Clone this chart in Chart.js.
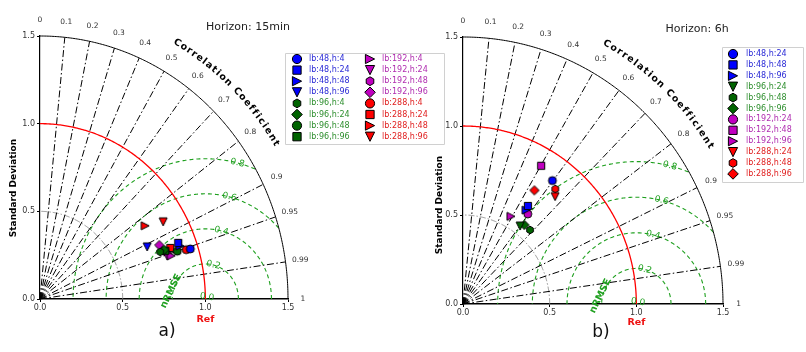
<!DOCTYPE html>
<html><head><meta charset="utf-8">
<script src="https://cdn.jsdelivr.net/npm/chart.js@4"></script>
<style>
html,body{margin:0;padding:0;background:#fff;}
#wrap{position:relative;width:806px;height:352px;overflow:hidden;background:#fff;}
#c1{position:absolute;left:0;top:0;}
#c2{position:absolute;left:420px;top:0;}
</style></head><body>
<div id="wrap"><canvas id="c1" width="450" height="352"></canvas><canvas id="c2" width="386" height="352"></canvas></div>
<script>
// ---------------- data ----------------
const stdTicks = [0, 0.5, 1.0, 1.5];
const corrTicks = [0, 0.1, 0.2, 0.3, 0.4, 0.5, 0.6, 0.7, 0.8, 0.9, 0.95, 0.99, 1];
const corrLines = [0.1, 0.2, 0.3, 0.4, 0.5, 0.6, 0.7, 0.8, 0.9, 0.95, 0.99];
const rmseLevels = [0.2, 0.4, 0.6, 0.8];
const stdContours = [0.5];
const refStd = 1.0;
const maxStd = 1.5;

const labels15min = ['lb:48,h:4','lb:48,h:24','lb:48,h:48','lb:48,h:96','lb:96,h:4','lb:96,h:24','lb:96,h:48','lb:96,h:96','lb:192,h:4','lb:192,h:24','lb:192,h:48','lb:192,h:96','lb:288,h:4','lb:288,h:24','lb:288,h:48','lb:288,h:96'];
const std15min  = [0.953,0.895,0.900,0.713,0.775,0.802,0.874,0.806,0.831,0.808,0.804,0.784,0.928,0.840,0.761,0.865];
const corr15min = [0.954,0.934,0.942,0.909,0.938,0.937,0.950,0.940,0.955,0.953,0.943,0.920,0.953,0.938,0.836,0.861];

const labels6h = ['lb:48,h:24','lb:48,h:48','lb:48,h:96','lb:96,h:24','lb:96,h:48','lb:96,h:96','lb:192,h:24','lb:192,h:48','lb:192,h:96','lb:288,h:24','lb:288,h:48','lb:288,h:96'];
const std6h  = [0.864,0.666,0.641,0.548,0.568,0.568,0.629,0.898,0.565,0.804,0.837,0.760];
const corr6h = [0.597,0.562,0.568,0.601,0.681,0.624,0.594,0.502,0.490,0.661,0.636,0.542];

// ---------------- styles ----------------
const groupIdx15 = [0,0,0,0,1,1,1,1,2,2,2,2,3,3,3,3];
const groupIdx6h = [0,0,0,1,1,1,2,2,2,3,3,3];
const shapeCycle = ['o','s','>','v','h','D'];
const markerColors = ['#0000ff','#006400','#c000c0','#ff0000'];
const textColors = ['#2b2bd6','#2f8f2f','#b02db0','#e01e1e'];
const FONT = '"DejaVu Sans", sans-serif';

function drawShape(ctx, shape, cx, cy, s, fill) {
  ctx.beginPath();
  if (shape === 'o') { ctx.arc(cx, cy, s, 0, Math.PI*2); }
  else if (shape === 's') { const h = s*0.9; ctx.rect(cx-h, cy-h, 2*h, 2*h); }
  else if (shape === '>') { ctx.moveTo(cx+s, cy); ctx.lineTo(cx-s, cy-s); ctx.lineTo(cx-s, cy+s); ctx.closePath(); }
  else if (shape === 'v') { ctx.moveTo(cx-s, cy-s); ctx.lineTo(cx+s, cy-s); ctx.lineTo(cx, cy+s); ctx.closePath(); }
  else if (shape === 'h') { const h = s*0.95; for (let k=0;k<6;k++){const a=-Math.PI/2+k*Math.PI/3; const px=cx+h*Math.cos(a), py=cy+h*Math.sin(a); k?ctx.lineTo(px,py):ctx.moveTo(px,py);} ctx.closePath(); }
  else if (shape === 'D') { const h = s*1.15; ctx.moveTo(cx, cy-h); ctx.lineTo(cx+h, cy); ctx.lineTo(cx, cy+h); ctx.lineTo(cx-h, cy); ctx.closePath(); }
  ctx.fillStyle = fill; ctx.fill();
  ctx.lineWidth = 1; ctx.strokeStyle = '#000'; ctx.stroke();
}
function markerCanvas(shape, fill, s) {
  const c = document.createElement('canvas');
  const n = Math.ceil(2*s*1.2 + 4);
  c.width = n; c.height = n;
  drawShape(c.getContext('2d'), shape, n/2, n/2, s, fill);
  return c;
}

const taylorPlugin = {
  id: 'taylor',
  beforeDatasetsDraw(chart, args, o) {
    const ctx = chart.ctx;
    const xs = chart.scales.x, ys = chart.scales.y;
    const Q = (x, y) => [xs.getPixelForValue(x), ys.getPixelForValue(y)];
    const P = (r, a) => Q(r*Math.cos(a), r*Math.sin(a));
    ctx.save();
    // std contour (gray)
    stdContours.forEach(r => {
      ctx.beginPath();
      for (let i=0;i<=180;i++){const [px,py]=P(r, i/180*Math.PI/2); i?ctx.lineTo(px,py):ctx.moveTo(px,py);}
      ctx.strokeStyle='#8a8a8a'; ctx.lineWidth=0.9; ctx.setLineDash([6,2,1.5,2]); ctx.stroke();
    });
    // RMSE arcs (green dashed) centered on reference
    ctx.setLineDash([4,3]); ctx.strokeStyle='#1fa01f'; ctx.lineWidth=1.1;
    rmseLevels.forEach(r => {
      ctx.beginPath(); let pen=false;
      for (let i=0;i<=400;i++){
        const t=i/400*Math.PI; const x=refStd+r*Math.cos(t), y=r*Math.sin(t);
        if (x*x+y*y<=maxStd*maxStd && x>=0){const [px,py]=Q(x,y); pen?ctx.lineTo(px,py):ctx.moveTo(px,py); pen=true;} else pen=false;
      }
      ctx.stroke();
    });
    // correlation lines
    ctx.setLineDash([7,2.5,1.5,2.5]); ctx.strokeStyle='#000'; ctx.lineWidth=1;
    corrLines.forEach(c => {
      const a=Math.acos(c); const [x0,y0]=P(0,a); const [x1,y1]=P(maxStd,a);
      ctx.beginPath(); ctx.moveTo(x0,y0); ctx.lineTo(x1,y1); ctx.stroke();
    });
    // reference std arc (red)
    ctx.setLineDash([]);
    ctx.beginPath();
    for (let i=0;i<=180;i++){const [px,py]=P(refStd, i/180*Math.PI/2); i?ctx.lineTo(px,py):ctx.moveTo(px,py);}
    ctx.strokeStyle='#ff0000'; ctx.lineWidth=1.3; ctx.stroke();
    // outer arc
    ctx.beginPath();
    for (let i=0;i<=240;i++){const [px,py]=P(maxStd, i/240*Math.PI/2); i?ctx.lineTo(px,py):ctx.moveTo(px,py);}
    ctx.strokeStyle='#000'; ctx.lineWidth=1; ctx.stroke();
    // RMSE labels
    ctx.fillStyle='#1fa01f'; ctx.font='9px '+FONT; ctx.textAlign='center'; ctx.textBaseline='middle';
    const la = 76*Math.PI/180;
    rmseLevels.forEach(r => {
      const [px,py]=Q(refStd+r*Math.cos(la), r*Math.sin(la));
      ctx.save(); ctx.translate(px,py); ctx.rotate(14*Math.PI/180); ctx.fillText(r.toFixed(1),0,0); ctx.restore();
    });
    { const [px,py]=Q(refStd+0.01, 0.012); ctx.save(); ctx.translate(px,py); ctx.rotate(10*Math.PI/180); ctx.fillText('0.0',0,0); ctx.restore(); }
    { const [px,py]=Q(0.793, 0.045); ctx.save(); ctx.translate(px,py); ctx.rotate(-64*Math.PI/180); ctx.font='bold 9.5px '+FONT; ctx.fillText('nRMSE',0,0); ctx.restore(); }
    ctx.restore();
  },
  afterDraw(chart, args, o) {
    const ctx = chart.ctx;
    const xs = chart.scales.x, ys = chart.scales.y;
    const Q = (x, y) => [xs.getPixelForValue(x), ys.getPixelForValue(y)];
    const P = (r, a) => Q(r*Math.cos(a), r*Math.sin(a));
    const ca = chart.chartArea;
    ctx.save();
    // correlation tick labels
    ctx.fillStyle='#333'; ctx.font='7.5px '+FONT; ctx.textAlign='center'; ctx.textBaseline='middle';
    corrTicks.forEach(c => { const [px,py]=P(maxStd+0.09, Math.acos(c)); ctx.fillText(String(c), px, py); });
    // curved title
    ctx.fillStyle='#000'; ctx.font='bold 9.5px '+FONT;
    const text='Correlation Coefficient'; const chars=[...text]; const sp=2.2;
    const ws=chars.map(ch=>ctx.measureText(ch).width+sp); const total=ws.reduce((a,b)=>a+b,0)-sp;
    const a0=61*Math.PI/180, a1=31.5*Math.PI/180, R=1.68; let acc=0;
    chars.forEach((ch,i)=>{
      const mid=acc+(ws[i]-sp)/2; const a=a0-(a0-a1)*mid/total;
      const [px,py]=P(R,a); const [qx,qy]=P(R,a-0.001);
      ctx.save(); ctx.translate(px,py); ctx.rotate(Math.atan2(qy-py,qx-px)); ctx.fillText(ch,0,0); ctx.restore();
      acc+=ws[i];
    });
    // Ref label
    { const [px]=Q(refStd,0); ctx.fillStyle='#ee1111'; ctx.font='bold 9.5px '+FONT; ctx.fillText('Ref', px, ca.bottom+o.refDy); }
    // y title
    ctx.save(); ctx.translate(o.yTitle[0], o.yTitle[1]); ctx.rotate(-Math.PI/2); ctx.fillStyle='#000'; ctx.font='bold 9px '+FONT; ctx.fillText('Standard Deviation',0,0); ctx.restore();
    // horizon title
    ctx.fillStyle='#222'; ctx.font='11px '+FONT; ctx.fillText(o.title, o.titlePos[0], o.titlePos[1]);
    // panel letter
    ctx.fillStyle='#111'; ctx.font='17px '+FONT; ctx.fillText(o.panel, o.panelPos[0], o.panelPos[1]);
    // legend
    const L=o.legend; ctx.fillStyle='rgba(255,255,255,0.9)'; ctx.strokeStyle='#d0d0d0'; ctx.lineWidth=1;
    ctx.beginPath(); ctx.rect(L.box[0]+0.5,L.box[1]+0.5,L.box[2]-L.box[0],L.box[3]-L.box[1]); ctx.fill(); ctx.stroke();
    ctx.font='8px '+FONT; ctx.textAlign='left'; ctx.textBaseline='middle';
    chart.data.datasets.forEach((ds,i)=>{
      const col=Math.floor(i/L.rows), row=i%L.rows; const y=L.y0+row*L.dy;
      const [mx,tx]=L.cols[col];
      drawShape(ctx, o.shapes[i], mx, y, 4.6, ds.backgroundColor);
      ctx.fillStyle=o.textCols[i]; ctx.fillText(ds.label, tx, y);
    });
    ctx.restore();
  }
};

function makeChart(id, labels, stds, corrs, groups, cfg) {
  const shapes = labels.map((_, i) => shapeCycle[i % shapeCycle.length]);
  const datasets = labels.map((lab, i) => {
    const s = stds[i], c = corrs[i];
    const col = markerColors[groups[i]];
    return { label: lab, data: [{x: s*c, y: s*Math.sqrt(1-c*c)}],
      pointStyle: markerCanvas(shapes[i], col, 4), pointRadius: 4,
      backgroundColor: col, borderColor: '#000', showLine: false };
  });
  cfg.shapes = shapes; cfg.textCols = labels.map((_, i) => textColors[groups[i]]);
  const tickFont = {family: FONT, size: 8};
  return new Chart(document.getElementById(id), {
    type: 'scatter', data: {datasets},
    options: {
      responsive: false, animation: false, events: [],
      layout: {padding: cfg.padding},
      plugins: {legend: {display: false}, tooltip: {enabled: false}, taylor: cfg},
      scales: {
        x: {type: 'linear', min: 0, max: maxStd,
          afterFit: s => { s.height = cfg.xh; },
          afterBuildTicks: s => { s.ticks = stdTicks.map(v => ({value: v})); },
          ticks: {font: tickFont, color: '#333', padding: 1, maxRotation: 0, autoSkip: false, callback: v => Number(v).toFixed(1)},
          grid: {display: true, drawOnChartArea: false, drawTicks: true, tickLength: 3, color: '#000'},
          border: {display: true, color: '#000', width: 1.6}},
        y: {type: 'linear', min: 0, max: maxStd,
          afterFit: s => { s.width = cfg.yw; },
          afterBuildTicks: s => { s.ticks = stdTicks.map(v => ({value: v})); },
          ticks: {font: tickFont, color: '#333', padding: 2, autoSkip: false, callback: v => Number(v).toFixed(1)},
          grid: {display: true, drawOnChartArea: false, drawTicks: true, tickLength: 3, color: '#000'},
          border: {display: true, color: '#000', width: 1.2}}
      }
    },
    plugins: [taylorPlugin]
  });
}

makeChart('c1', labels15min, std15min, corr15min, groupIdx15, {
  padding: {left: 0, top: 36, right: 162, bottom: 0}, xh: 53, yw: 40,
  title: 'Horizon: 15min', titlePos: [248, 27], panel: 'a)', panelPos: [167, 332],
  yTitle: [14, 188], refDy: 21,
  legend: {box: [285, 53, 444, 144], rows: 8, y0: 59, dy: 11.1, cols: [[297, 309], [370, 382]]}
});
makeChart('c2', labels6h, std6h, corr6h, groupIdx6h, {
  padding: {left: 0, top: 37, right: 83, bottom: 0}, xh: 48, yw: 43,
  title: 'Horizon: 6h', titlePos: [277, 29], panel: 'b)', panelPos: [181, 333],
  yTitle: [20, 205], refDy: 19,
  legend: {box: [302, 47, 383, 182], rows: 12, y0: 54, dy: 10.9, cols: [[313, 326]]}
});
</script>
</body></html>
